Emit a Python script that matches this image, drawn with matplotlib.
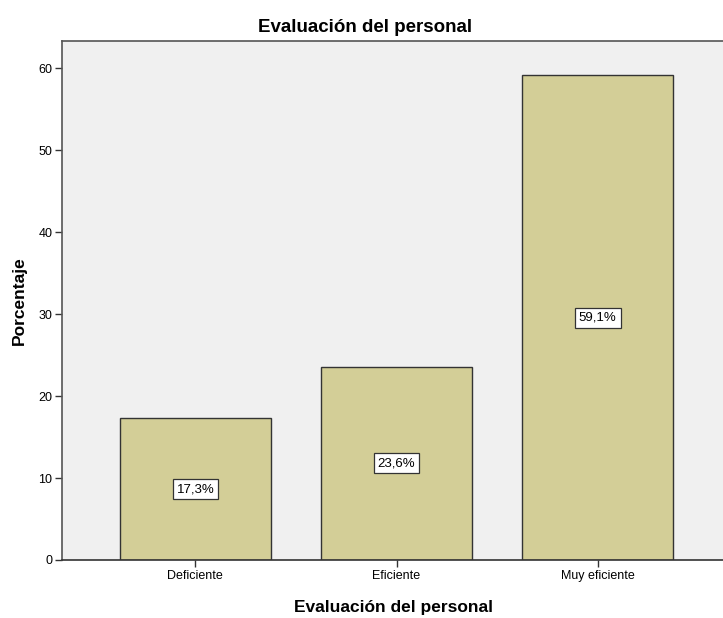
import matplotlib
matplotlib.use("Agg")
import matplotlib.pyplot as plt

categories = ["Deficiente", "Eficiente", "Muy eficiente"]
values = [17.3, 23.6, 59.1]
labels = ["17,3%", "23,6%", "59,1%"]
yticks = [0, 10, 20, 30, 40, 50, 60]

plt.rcParams['font.family'] = ['Liberation Sans', 'DejaVu Sans']

fig = plt.figure(figsize=(7.23, 6.18), dpi=100)
ax = fig.add_axes([62/723, 58/618, 1 - 62/723 + 0.002, (560-41)/618])
ax.set_facecolor('#F0F0F0')
x = list(range(len(categories)))
ax.bar(x, values, width=0.75, color='#D3CE97', edgecolor='#333333', linewidth=1.0, zorder=2)
for xi, v, lab in zip(x, values, labels):
    ax.text(xi, v/2, lab, ha='center', va='center', fontsize=9.5, color='black', zorder=3,
            bbox=dict(boxstyle='square,pad=0.3', facecolor='white', edgecolor='#333333', linewidth=0.9))
ax.set_xlim(-0.663, 2.63)
ax.set_ylim(0, 63.3)
ax.set_yticks(yticks)
ax.set_yticklabels([str(t) for t in yticks])
ax.set_xticks(x)
ax.set_xticklabels(categories)
ax.tick_params(axis='both', labelsize=9, length=5, width=1, color='#333333', pad=2)
ax.spines['right'].set_visible(False)
for s in ['left', 'top', 'bottom']:
    ax.spines[s].set_color('#555555')
    ax.spines[s].set_linewidth(1.2)
ax.spines['bottom'].set_color('#333333')
fig.text(365/723, 1 - 27/618, "Evaluación del personal", fontsize=13.5, fontweight='bold',
         ha='center', va='center')
ax.set_xlabel("Evaluación del personal", fontsize=12.5, fontweight='bold', labelpad=13)
ax.set_ylabel("Porcentaje", fontsize=12.5, fontweight='bold', labelpad=8)
fig.savefig("out.png", dpi=100)
